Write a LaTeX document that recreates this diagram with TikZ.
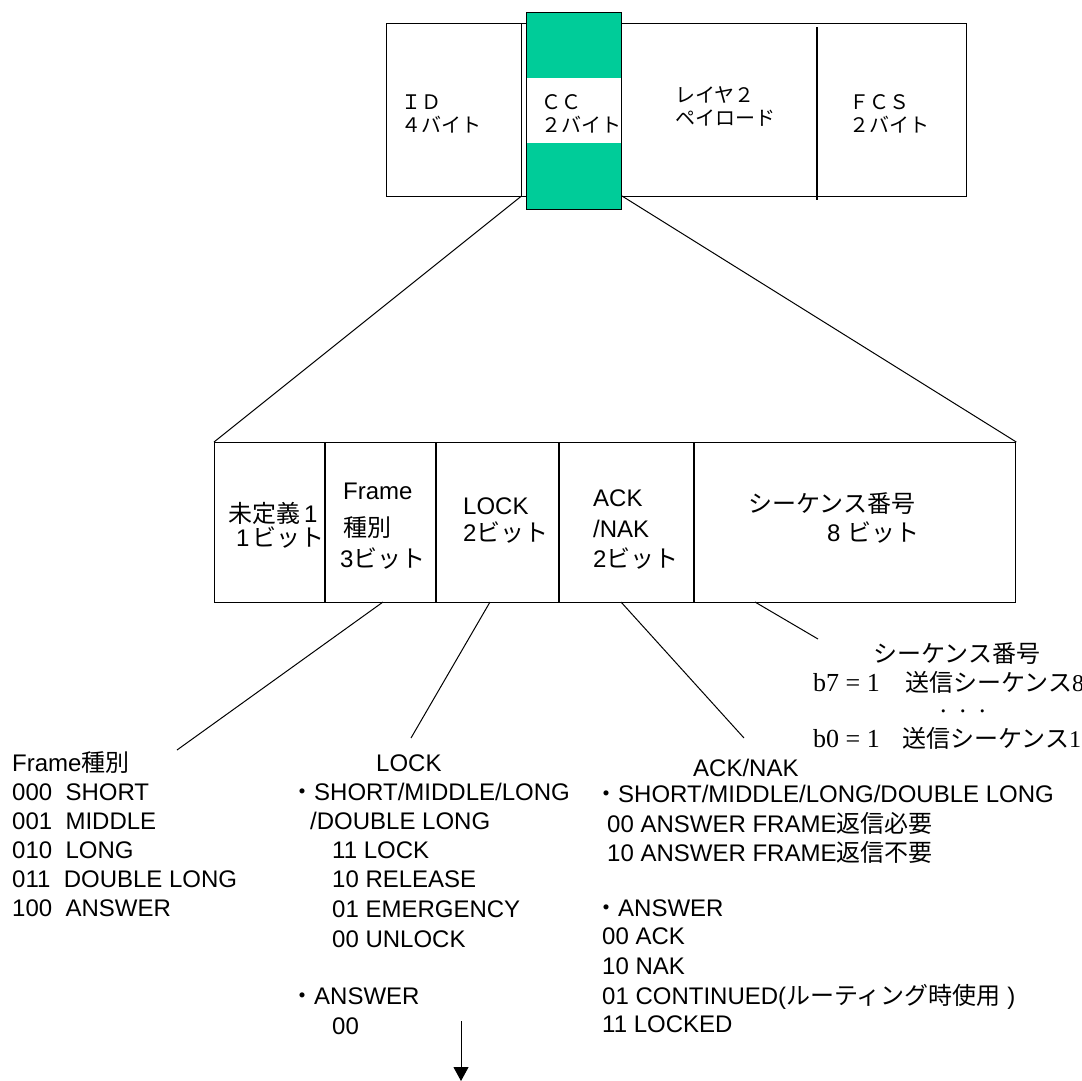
\documentclass[tikz,border=0pt]{standalone}
\usepackage{fontspec}
\usetikzlibrary{arrows.meta}
\setmainfont{Liberation Sans}
\newfontfamily\jp{Noto Sans CJK JP}
\newfontfamily\tms{Liberation Serif}
\definecolor{ccgreen}{RGB}{0,204,153}
\begin{document}
\begin{tikzpicture}[x=1pt,y=-1pt,
  box/.style={draw=black, line width=1.3pt},
  conn/.style={draw=black, line width=1pt},
  txt/.style={inner sep=0pt, anchor=base west, font=\fontsize{24}{28}\selectfont},
  toptxt/.style={inner sep=0pt, anchor=base west, font=\jp\fontsize{20}{24}\selectfont},
  sertxt/.style={inner sep=0pt, anchor=base west, font=\tms\fontsize{26}{30}\selectfont}]
\useasboundingbox (0,0) rectangle (1082,1080);
\fill[white] (0,0) rectangle (1082,1080);

% ---------- top frame ----------
\node[box, anchor=north west, minimum width=580pt, minimum height=173pt, inner sep=0pt] (top) at (386,23) {};
\draw[box] (521.5,23) -- (521.5,196);
\draw[box] (817,27) -- (817,200);
\node[fill=ccgreen, anchor=north west, minimum width=95pt, minimum height=197pt, inner sep=0pt] (cc) at (526,12) {};
\fill[white] (526.5,78) rectangle (620.5,143);
\draw[line width=1pt] (cc.north west) rectangle (cc.south east);

\node[toptxt] (id1) at (401,109) {ＩＤ};
\node[toptxt] (id2) at (401,132) {４バイト};
\node[toptxt] (cc1) at (541,109) {ＣＣ};
\node[toptxt] (cc2) at (541,132) {２バイト};
\node[toptxt] (l21) at (675,102) {レイヤ２};
\node[toptxt] (l22) at (675,125) {ペイロード};
\node[toptxt] (fc1) at (849,109) {ＦＣＳ};
\node[toptxt] (fc2) at (849,132) {２バイト};

% ---------- lower (CC detail) ----------
\node[box, anchor=north west, minimum width=801pt, minimum height=160pt, inner sep=0pt] (low) at (214,442) {};
\draw[box] (325,442) -- (325,602);
\draw[box] (436,442) -- (436,602);
\draw[box] (559,442) -- (559,602);
\draw[box] (694,442) -- (694,602);

\coordinate (ccl) at (521.5,196);
\coordinate (ccr) at (622,196);
\draw[conn] (ccl) -- (low.north west);
\draw[conn] (ccr) -- (low.north east);

\node[txt] (f01) at (228,522) {{\jp 未定義}\hspace{4pt}1};
\node[txt] (f02) at (236,546) {1\hspace{3pt}{\jp ビット}};
\node[txt] (f11) at (343,499) {Frame};
\node[txt] (f12) at (343,536) {\jp 種別};
\node[txt] (f13) at (340,567) {3{\jp ビット}};
\node[txt] (f21) at (463,514) {LOCK};
\node[txt] (f22) at (463,541) {2{\jp ビット}};
\node[txt] (f31) at (593,506) {ACK};
\node[txt] (f32) at (593,537) {/NAK};
\node[txt] (f33) at (593,567) {2{\jp ビット}};
\node[txt] (f41) at (748,512) {\jp シーケンス番号};
\node[txt] (f42) at (827,541) {8 {\jp ビット}};

% ---------- leader lines ----------
\coordinate (s1) at (383,602);  \coordinate (e1) at (177,750);
\coordinate (s2) at (490,602);  \coordinate (e2) at (411,738);
\coordinate (s3) at (621,602);  \coordinate (e3) at (744,738);
\coordinate (s4) at (755,602);  \coordinate (e4) at (818,639);
\draw[conn] (s1) -- (e1);
\draw[conn] (s2) -- (e2);
\draw[conn] (s3) -- (e3);
\draw[conn] (s4) -- (e4);

% ---------- Frame type list ----------
\node[txt] (a0) at (12,771) {Frame{\jp 種別}};
\node[txt] (a1) at (12,800) {000\ \ SHORT};
\node[txt] (a2) at (12,829) {001\ \ MIDDLE};
\node[txt] (a3) at (12,858) {010\ \ LONG};
\node[txt] (a4) at (12,887) {011\ \ DOUBLE LONG};
\node[txt] (a5) at (12,916) {100\ \ ANSWER};

% ---------- LOCK list ----------
\node[txt] (b0) at (376,771) {LOCK};
\node[txt] (b1) at (290,800) {{\jp ・}SHORT/MIDDLE/LONG};
\node[txt] (b2) at (310,829) {/DOUBLE LONG};
\node[txt] (b3) at (332,858) {11 LOCK};
\node[txt] (b4) at (332,887) {10 RELEASE};
\node[txt] (b5) at (332,917) {01 EMERGENCY};
\node[txt] (b6) at (332,947) {00 UNLOCK};
\node[txt] (b7) at (290,1004) {{\jp ・}ANSWER};
\node[txt] (b8) at (332,1034) {00};

\coordinate (arrs) at (461,1021);
\coordinate (arre) at (461,1081);
\draw[conn, -{Triangle[width=15pt,length=14pt]}] (arrs) -- (arre);

% ---------- ACK/NAK list ----------
\node[txt] (c0) at (693,776) {ACK/NAK};
\node[txt] (c1) at (594,802) {{\jp ・}SHORT/MIDDLE/LONG/DOUBLE LONG};
\node[txt] (c2) at (607,832) {00 ANSWER FRAME{\jp 返信必要}};
\node[txt] (c3) at (607,861) {10 ANSWER FRAME{\jp 返信不要}};
\node[txt] (c4) at (594,916) {{\jp ・}ANSWER};
\node[txt] (c5) at (602,944) {00 ACK};
\node[txt] (c6) at (602,974) {10 NAK};
\node[txt] (c7) at (602,1004) {01 CONTINUED({\jp ルーティング時使用}\ )};
\node[txt] (c8) at (602,1032) {11 LOCKED};

% ---------- sequence number ----------
\node[txt] (d0) at (873,662) {\jp シーケンス番号};
\node[sertxt] (d1) at (813,691) {b7 = 1};
\node[txt] (d2) at (905,691) {{\jp 送信シーケンス}{\tms 8}};
\node[sertxt] (d3) at (940,712) {.\ \ .\ \ .};
\node[sertxt] (d4) at (813,747) {b0 = 1};
\node[txt] (d5) at (902,747) {{\jp 送信シーケンス}{\tms 1}};
\end{tikzpicture}
\end{document}
